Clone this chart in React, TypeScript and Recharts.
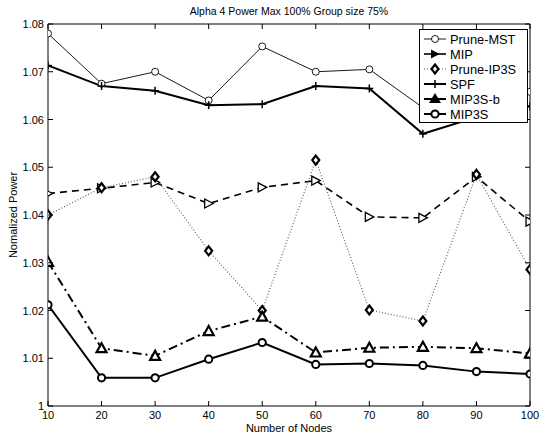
import { LineChart, Line, XAxis, YAxis, Legend } from 'recharts';

const nodes = [10, 20, 30, 40, 50, 60, 70, 80, 90, 100];
const pruneMst = [1.078, 1.0675, 1.07, 1.064, 1.0753, 1.07, 1.0705, 1.0625, 1.064, 1.0658];
const mip = [1.0445, 1.0456, 1.0468, 1.0424, 1.0458, 1.0472, 1.0396, 1.0394, 1.048, 1.0386];
const pruneIp3s = [1.04, 1.0457, 1.048, 1.0325, 1.02, 1.0515, 1.0201, 1.0178, 1.0485, 1.0286];
const spf = [1.0713, 1.067, 1.066, 1.063, 1.0632, 1.067, 1.0665, 1.057, 1.0605, 1.0628];
const mip3sB = [1.0302, 1.0121, 1.0105, 1.0157, 1.0187, 1.0112, 1.0122, 1.0124, 1.0121, 1.011];
const mip3s = [1.0212, 1.0059, 1.0059, 1.0098, 1.0133, 1.0087, 1.0089, 1.0085, 1.0072, 1.0067];

const xTicks = nodes;
const yTicks = [1, 1.01, 1.02, 1.03, 1.04, 1.05, 1.06, 1.07, 1.08];

const data = nodes.map((n, i) => ({
  n,
  pruneMst: pruneMst[i],
  mip: mip[i],
  pruneIp3s: pruneIp3s[i],
  spf: spf[i],
  mip3sB: mip3sB[i],
  mip3s: mip3s[i],
}));

const FONT = '"Liberation Sans", Arial, Helvetica, sans-serif';

type Mark = (cx: number, cy: number, key?: string | number) => JSX.Element;

const circleOpen: Mark = (cx, cy, key) => (
  <circle key={key} cx={cx} cy={cy} r={3.5} fill="#fff" stroke="#000" strokeWidth={0.9} />
);
const triRight: Mark = (cx, cy, key) => (
  <polygon
    key={key}
    points={`${cx - 4},${cy - 4.5} ${cx + 4.5},${cy} ${cx - 4},${cy + 4.5}`}
    fill="#fff"
    stroke="#000"
    strokeWidth={1.3}
  />
);
const diamond: Mark = (cx, cy, key) => (
  <polygon
    key={key}
    points={`${cx},${cy - 4.5} ${cx + 3.5},${cy} ${cx},${cy + 4.5} ${cx - 3.5},${cy}`}
    fill="#fff"
    stroke="#000"
    strokeWidth={2.2}
  />
);
const plus: Mark = (cx, cy, key) => (
  <g key={key} stroke="#000" strokeWidth={1.5}>
    <line x1={cx - 4} y1={cy} x2={cx + 4} y2={cy} />
    <line x1={cx} y1={cy - 4} x2={cx} y2={cy + 4} />
  </g>
);
const triUp: Mark = (cx, cy, key) => (
  <polygon
    key={key}
    points={`${cx},${cy - 5} ${cx + 5},${cy + 4} ${cx - 5},${cy + 4}`}
    fill="#fff"
    stroke="#000"
    strokeWidth={2.2}
  />
);
const circleThick: Mark = (cx, cy, key) => (
  <circle key={key} cx={cx} cy={cy} r={3.6} fill="#fff" stroke="#000" strokeWidth={2} />
);

const series = [
  { key: 'pruneMst', name: 'Prune-MST', width: 0.9, dash: undefined, stroke: '#000', mark: circleOpen },
  { key: 'mip', name: 'MIP', width: 1.6, dash: '7 5', stroke: '#000', mark: triRight },
  { key: 'pruneIp3s', name: 'Prune-IP3S', width: 1.2, dash: '1 2', stroke: '#666', mark: diamond },
  { key: 'spf', name: 'SPF', width: 2, dash: undefined, stroke: '#000', mark: plus },
  { key: 'mip3sB', name: 'MIP3S-b', width: 2, dash: '9 4 2 4', stroke: '#000', mark: triUp },
  { key: 'mip3s', name: 'MIP3S', width: 2, dash: undefined, stroke: '#000', mark: circleThick },
];

const legendMarks: Record<string, Mark> = {
  pruneMst: circleOpen,
  mip: (cx, cy) => <polygon points={`${cx - 4},${cy - 4.5} ${cx + 4.5},${cy} ${cx - 4},${cy + 4.5}`} fill="#000" />,
  pruneIp3s: diamond,
  spf: plus,
  mip3sB: (cx, cy) => <polygon points={`${cx},${cy - 6} ${cx + 6},${cy + 4} ${cx - 6},${cy + 4}`} fill="#000" />,
  mip3s: circleThick,
};

const LegendBox = () => (
  <svg width={109} height={94} style={{ display: 'block' }}>
    <rect x={0.5} y={0.5} width={108} height={93} fill="#fff" stroke="#000" strokeWidth={1} />
    {series.map((s, i) => {
      const y = 10 + i * 15;
      return (
        <g key={s.key}>
          <line
            x1={5}
            x2={27}
            y1={y}
            y2={y}
            stroke={s.stroke}
            strokeWidth={s.width}
            strokeDasharray={s.dash === '1 2' ? '1 2' : undefined}
          />
          {legendMarks[s.key](16, y)}
          <text x={31} y={y + 4.5} fontSize={12.8} fontFamily={FONT} fill="#000">
            {s.name}
          </text>
        </g>
      );
    })}
  </svg>
);

const fmtY = (v: number) => (v === 1 ? '1' : v.toFixed(2));

// inward tick marks, MATLAB style
const BottomTick = (p: any) => (
  <g>
    <line x1={p.x} x2={p.x} y1={p.y - 9} y2={p.y - 14} stroke="#000" strokeWidth={1} />
    <text x={p.x} y={p.y + 4} textAnchor="middle" fontSize={11} fontFamily={FONT} fill="#000">
      {p.payload.value}
    </text>
  </g>
);
const LeftTick = (p: any) => (
  <g>
    <line x1={p.x + 4} x2={p.x + 9} y1={p.y} y2={p.y} stroke="#000" strokeWidth={1} />
    <text x={p.x} y={p.y + 4} textAnchor="end" fontSize={11} fontFamily={FONT} fill="#000">
      {fmtY(p.payload.value)}
    </text>
  </g>
);
const TopTick = (p: any) => (
  <line x1={p.x} x2={p.x} y1={p.y} y2={p.y + 5} stroke="#000" strokeWidth={1} />
);
const RightTick = (p: any) => (
  <line x1={p.x} x2={p.x - 5} y1={p.y} y2={p.y} stroke="#000" strokeWidth={1} />
);

export default function App() {
  return (
    <div style={{ position: 'absolute', left: 0, top: 0, width: 549, height: 434, background: '#fff' }}>
      <LineChart
        width={549}
        height={434}
        data={data}
        margin={{ top: 23, right: 18, bottom: 0, left: 0 }}
        style={{ fontFamily: FONT }}
      >
        <XAxis
          dataKey="n"
          type="number"
          domain={[10, 100]}
          ticks={xTicks}
          allowDataOverflow
          height={28}
          stroke="#000"
          tickSize={0}
          tickMargin={9}
          tickLine={false}
          tick={<BottomTick />}
          label={{ value: 'Number of Nodes', position: 'insideBottom', offset: 2, fontSize: 11, fill: '#000' }}
        />
        <XAxis
          xAxisId="top"
          orientation="top"
          dataKey="n"
          type="number"
          domain={[10, 100]}
          ticks={xTicks}
          allowDataOverflow
          height={1}
          stroke="#000"
          tickSize={0}
          tickMargin={0}
          tickLine={false}
          tick={<TopTick />}
          label={{ value: 'Alpha 4 Power Max 100% Group size 75%', position: 'top', offset: 8, fontSize: 10.5, fill: '#000' }}
        />
        <YAxis
          type="number"
          domain={[1, 1.08]}
          ticks={yTicks}
          allowDataOverflow
          width={48}
          stroke="#000"
          tickSize={0}
          tickMargin={4}
          tickLine={false}
          tick={<LeftTick />}
          label={{
            content: () => (
              <text
                x={17}
                y={215}
                transform="rotate(-90 17 215)"
                textAnchor="middle"
                fontSize={11}
                fontFamily={FONT}
                fill="#000"
              >
                Nomalized Power
              </text>
            ),
          }}
        />
        <YAxis
          yAxisId="right"
          orientation="right"
          type="number"
          domain={[1, 1.08]}
          ticks={yTicks}
          allowDataOverflow
          width={1}
          stroke="#000"
          tickSize={0}
          tickMargin={0}
          tickLine={false}
          tick={<RightTick />}
        />
        {series.map((s) => (
          <Line
            key={s.key}
            dataKey={s.key}
            name={s.name}
            type="linear"
            stroke={s.stroke}
            strokeWidth={s.width}
            strokeDasharray={s.dash}
            isAnimationActive={false}
            dot={(p: any) => s.mark(p.cx, p.cy, `${s.key}-${p.index}`)}
            activeDot={false}
          />
        ))}
        {/* invisible series so the mirror axes on top and right get drawn */}
        <Line
          xAxisId="top"
          yAxisId="right"
          dataKey="mip3s"
          stroke="none"
          dot={false}
          activeDot={false}
          legendType="none"
          isAnimationActive={false}
        />
        <Legend
          layout="vertical"
          align="center"
          verticalAlign="middle"
          content={() => <LegendBox />}
          wrapperStyle={{ left: 419, top: 29, width: 109, height: 94 }}
        />
      </LineChart>
    </div>
  );
}
